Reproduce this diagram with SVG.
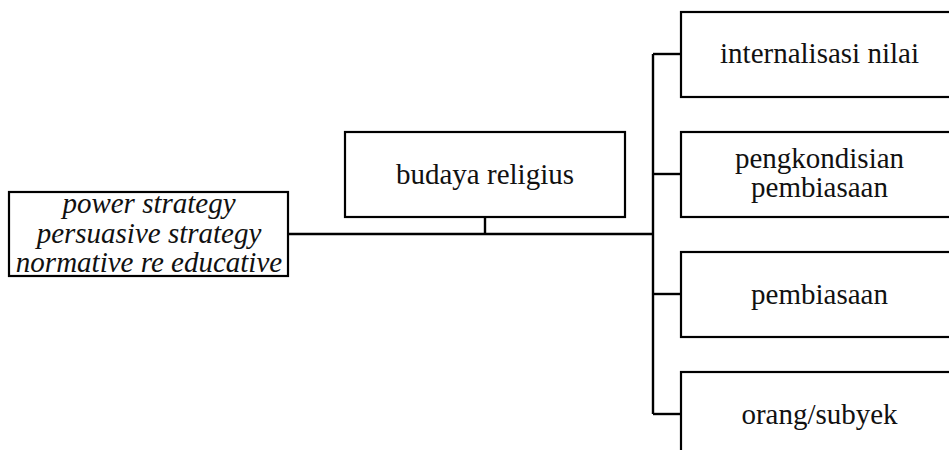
<svg xmlns="http://www.w3.org/2000/svg" width="949" height="450" viewBox="0 0 949 450">
  <style>
    .box { fill: #fff; stroke: #000; stroke-width: 2.2; }
    .conn { fill: none; stroke: #000; stroke-width: 2.4; }
  </style>
  <rect width="949" height="450" fill="#fff"/>

  <!-- connectors -->
  <g id="connectors">
    <path class="conn" d="M288 234 H653"/>
    <path class="conn" d="M485 217 V234"/>
    <path class="conn" d="M653 54 V414"/>
    <path class="conn" d="M653 54 H681"/>
    <path class="conn" d="M653 174 H681"/>
    <path class="conn" d="M653 294 H681"/>
    <path class="conn" d="M653 414 H681"/>
  </g>

  <!-- strategies -->
  <g id="strategi">
    <rect class="box" x="9" y="192" width="279" height="84"/>
    <text x="149" y="213" font-family="'Liberation Serif', serif" font-size="29" font-style="italic" text-anchor="middle" fill="#111">power strategy</text>
    <text x="149" y="243" font-family="'Liberation Serif', serif" font-size="29" font-style="italic" text-anchor="middle" fill="#111">persuasive strategy</text>
    <text x="149" y="272" font-family="'Liberation Serif', serif" font-size="29" font-style="italic" text-anchor="middle" fill="#111">normative re educative</text>
  </g>

  <g id="budaya">
    <rect class="box" x="345" y="132" width="280" height="85"/>
    <text x="485" y="183.5" font-family="'Liberation Serif', serif" font-size="29" text-anchor="middle" fill="#111">budaya religius</text>
  </g>

  <g id="internalisasi">
    <rect class="box" x="681" y="12" width="290" height="85"/>
    <text x="819.5" y="63" font-family="'Liberation Serif', serif" font-size="29" text-anchor="middle" fill="#111">internalisasi nilai</text>
  </g>

  <g id="pengkondisian">
    <rect class="box" x="681" y="132" width="290" height="85"/>
    <text x="819.5" y="167.5" font-family="'Liberation Serif', serif" font-size="29" text-anchor="middle" fill="#111">pengkondisian</text>
    <text x="819.5" y="197" font-family="'Liberation Serif', serif" font-size="29" text-anchor="middle" fill="#111">pembiasaan</text>
  </g>

  <g id="pembiasaan">
    <rect class="box" x="681" y="252" width="290" height="85"/>
    <text x="819.5" y="303.5" font-family="'Liberation Serif', serif" font-size="29" text-anchor="middle" fill="#111">pembiasaan</text>
  </g>

  <g id="orang">
    <rect class="box" x="681" y="372" width="290" height="100"/>
    <text x="819.5" y="423.5" font-family="'Liberation Serif', serif" font-size="29" text-anchor="middle" fill="#111">orang/subyek</text>
  </g>
</svg>
